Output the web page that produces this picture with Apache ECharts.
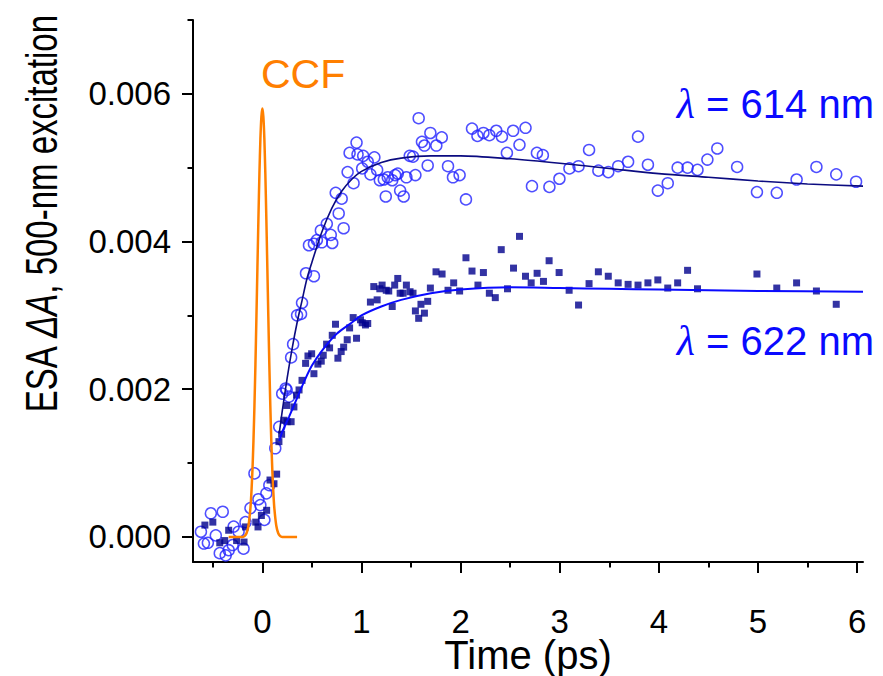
<!DOCTYPE html>
<html><head><meta charset="utf-8">
<script src="https://cdn.jsdelivr.net/npm/echarts@6/dist/echarts.min.js"></script>
<style>html,body{margin:0;padding:0;background:#fff}#c{width:883px;height:676px}</style>
</head><body><div id="c"></div>
<script>
// ESA ΔA values are stored in units of 1e-3; time in ps
const xMajorTicks = [0, 1, 2, 3, 4, 5, 6];
const xMinorTicks = [-0.5, 0.5, 1.5, 2.5, 3.5, 4.5, 5.5];
const yMajorTicks = [0, 2, 4, 6];
const yMinorTicks = [1, 3, 5, 7];

const points614 = [
  [-0.62,0.07],[-0.59,-0.09],[-0.55,-0.08],[-0.52,0.32],[-0.47,0.02],[-0.43,-0.22],[-0.40,0.34],
  [-0.37,-0.25],[-0.34,-0.18],[-0.30,-0.11],[-0.29,0.14],[-0.24,0.07],[-0.19,-0.16],[-0.17,0.20],
  [-0.12,0.39],[-0.08,0.86],[-0.04,0.51],[-0.02,0.43],[0.02,0.23],[0.04,0.59],[0.07,0.70],
  [0.13,1.20],[0.17,1.49],[0.20,1.94],[0.235,2.01],[0.245,1.99],[0.27,1.90],[0.29,2.43],
  [0.31,2.61],[0.35,3.00],[0.39,3.02],[0.40,3.17],[0.44,3.57],[0.47,3.95],[0.52,3.53],
  [0.52,3.97],[0.55,4.02],[0.59,4.15],[0.60,3.99],[0.65,4.24],[0.69,4.09],[0.705,3.98],
  [0.74,4.66],[0.77,4.38],[0.80,4.58],[0.82,4.18],[0.86,4.94],[0.88,5.20],[0.92,4.79],
  [0.95,5.34],[0.96,5.18],[1.007,4.99],[1.017,5.16],[1.063,5.08],[1.09,4.91],[1.13,5.14],
  [1.158,4.97],[1.185,4.83],[1.225,4.84],[1.245,4.61],[1.265,4.87],[1.31,4.83],[1.34,4.90],
  [1.366,4.92],[1.39,4.69],[1.426,4.61],[1.453,4.87],[1.487,5.16],[1.52,5.15],[1.544,4.90],
  [1.577,5.67],[1.61,5.35],[1.635,5.30],[1.668,5.03],[1.695,5.47],[1.755,5.30],[1.81,5.41],
  [1.873,5.02],[1.923,4.87],[1.99,4.90],[2.054,4.57],[2.115,5.53],[2.17,5.43],[2.23,5.47],
  [2.29,5.44],[2.36,5.50],[2.417,5.42],[2.467,5.20],[2.53,5.50],[2.594,5.31],[2.655,5.54],
  [2.72,4.75],[2.77,5.20],[2.83,5.17],[2.896,4.74],[2.997,4.85],[3.098,4.99],[3.19,5.02],
  [3.296,5.24],[3.39,4.96],[3.49,4.94],[3.59,5.02],[3.69,5.08],[3.79,5.42],[3.89,5.04],
  [3.99,4.69],[4.09,4.79],[4.19,5.00],[4.29,5.00],[4.39,4.97],[4.49,5.11],[4.59,5.26],
  [4.79,5.01],[4.99,4.67],[5.19,4.66],[5.39,4.84],[5.59,5.01],[5.79,4.91],[5.99,4.81]
];

const points622 = [
  [-0.58,0.16],[-0.50,0.20],[-0.43,-0.08],[-0.38,-0.05],[-0.34,0.09],[-0.26,-0.05],[-0.185,-0.07],
  [-0.17,0.135],[-0.067,0.20],[-0.044,0.135],[-0.01,0.29],[0.043,0.36],[0.077,0.77],[0.117,0.72],
  [0.144,0.85],[0.167,1.29],[0.194,1.39],[0.218,1.58],[0.25,1.56],[0.29,1.56],[0.245,1.78],
  [0.318,1.76],[0.345,1.92],[0.37,1.99],[0.40,2.12],[0.436,2.35],[0.46,2.45],[0.497,2.48],
  [0.52,2.21],[0.56,2.34],[0.594,2.38],[0.614,2.46],[0.648,2.61],[0.678,2.56],[0.705,2.73],
  [0.738,2.88],[0.762,2.42],[0.795,2.51],[0.82,2.57],[0.856,2.67],[0.88,2.83],[0.916,2.97],
  [0.95,2.69],[0.99,2.94],[1.007,2.90],[1.04,2.87],[1.063,2.89],[1.09,3.18],[1.124,3.39],
  [1.158,3.21],[1.185,3.36],[1.208,3.41],[1.25,3.34],[1.275,3.33],[1.31,3.12],[1.335,3.41],
  [1.366,3.50],[1.39,3.30],[1.42,3.30],[1.453,3.41],[1.49,3.32],[1.52,3.30],[1.544,3.06],
  [1.577,2.96],[1.60,3.15],[1.635,3.03],[1.668,3.19],[1.695,3.37],[1.752,3.59],[1.813,3.56],
  [1.873,3.34],[1.93,3.44],[1.99,3.33],[2.054,3.78],[2.115,3.60],[2.175,3.41],[2.23,3.58],
  [2.29,3.30],[2.35,3.24],[2.41,3.89],[2.473,3.36],[2.534,3.64],[2.594,4.07],[2.655,3.53],
  [2.712,3.44],[2.772,3.57],[2.836,3.46],[2.893,3.74],[2.994,3.58],[3.095,3.34],[3.19,3.14],
  [3.296,3.43],[3.39,3.59],[3.49,3.53],[3.59,3.44],[3.69,3.42],[3.79,3.41],[3.89,3.44],
  [3.99,3.48],[4.09,3.37],[4.19,3.44],[4.29,3.61],[4.39,3.36],[4.99,3.56],[5.19,3.37],
  [5.39,3.44],[5.59,3.33],[5.79,3.15]
];

const fit614 = [
  [0.17,1.40],[0.20,1.70],[0.25,2.15],[0.30,2.55],[0.35,2.90],[0.40,3.20],[0.45,3.50],
  [0.50,3.72],[0.60,4.13],[0.70,4.45],[0.80,4.68],[0.90,4.84],[1.00,4.95],[1.20,5.07],
  [1.40,5.13],[1.70,5.16],[2.00,5.16],[2.50,5.12],[3.00,5.06],[3.50,4.99],[4.00,4.92],
  [4.50,4.87],[5.00,4.82],[5.50,4.78],[6.06,4.75]
];

const fit622 = [
  [0.17,1.30],[0.20,1.42],[0.27,1.63],[0.35,1.88],[0.42,2.10],[0.50,2.32],[0.60,2.52],
  [0.75,2.75],[0.90,2.90],[1.00,3.00],[1.20,3.12],[1.40,3.21],[1.70,3.30],[2.00,3.35],
  [2.50,3.38],[3.00,3.37],[3.50,3.36],[4.00,3.35],[5.00,3.33],[6.06,3.32]
];

const ccf = [
  [-0.34,0],[-0.20,0],[-0.18,0.01],[-0.16,0.05],[-0.14,0.155],[-0.12,0.40],[-0.11,0.62],
  [-0.10,0.91],[-0.09,1.30],[-0.08,1.78],[-0.07,2.34],[-0.06,2.98],[-0.05,3.65],[-0.04,4.31],
  [-0.03,4.91],[-0.02,5.39],[-0.01,5.69],[0,5.80],[0.01,5.69],[0.02,5.39],[0.03,4.91],
  [0.04,4.31],[0.05,3.65],[0.06,2.98],[0.07,2.34],[0.08,1.78],[0.09,1.30],[0.10,0.91],
  [0.11,0.62],[0.12,0.40],[0.14,0.155],[0.16,0.05],[0.18,0.01],[0.20,0],[0.35,0]
];

const labelCCF = 'CCF';
const label614 = '{l|λ} = 614 nm';
const label622 = '{l|λ} = 622 nm';
const xTitle = 'Time (ps)';
const yTitle = 'ESA {i|ΔA}, 500-nm excitation';

function hasFont(name) {
  const c = document.createElement('canvas').getContext('2d');
  const s = 'abcdefghijklmnopqrstuvwxyz0123456789';
  c.font = '40px monospace';
  const w1 = c.measureText(s).width;
  c.font = '40px "' + name + '", monospace';
  const w2 = c.measureText(s).width;
  return Math.abs(w1 - w2) > 0.5;
}
const narrow = hasFont('Liberation Sans Narrow');
const tickFont = narrow ? 'Liberation Sans Narrow' : 'Liberation Sans';
const tickSize = narrow ? 37 : 33;

const chart = echarts.init(document.getElementById('c'), null, { renderer: 'svg' });

const black = '#000';
const X_MIN = -0.7, X_MAX = 6.06, Y_MIN = -0.34, Y_MAX = 7.0;

const option = {
  animation: false,
  backgroundColor: '#fff',
  grid: { left: 193, right: 20, top: 20, bottom: 114, containLabel: false, outerBoundsMode: 'none' },
  xAxis: [
    {
      type: 'value', min: X_MIN, max: X_MAX, position: 'bottom',
      axisLine: { show: true, onZero: false, lineStyle: { color: black, width: 2 } },
      axisTick: { show: true, length: 11, customValues: xMajorTicks, lineStyle: { color: black, width: 2 } },
      axisLabel: { customValues: xMajorTicks, margin: 45.5, lineHeight: 28, fontSize: tickSize, fontFamily: tickFont, color: black },
      splitLine: { show: false },
      name: xTitle, nameLocation: 'middle', nameGap: 78, nameMoveOverlap: false,
      nameTextStyle: { fontSize: 40, lineHeight: 30, fontFamily: 'Liberation Sans', color: black }
    },
    {
      type: 'value', min: X_MIN, max: X_MAX, position: 'bottom',
      axisLine: { show: false, onZero: false },
      axisTick: { show: true, length: 5.5, customValues: xMinorTicks, lineStyle: { color: black, width: 2 } },
      axisLabel: { show: false },
      splitLine: { show: false }
    }
  ],
  yAxis: [
    {
      type: 'value', min: Y_MIN, max: Y_MAX, position: 'left',
      axisLine: { show: true, onZero: false, lineStyle: { color: black, width: 2 } },
      axisTick: { show: true, length: 11, customValues: yMajorTicks, lineStyle: { color: black, width: 2 } },
      axisLabel: { customValues: yMajorTicks, margin: 22, fontSize: tickSize, fontFamily: tickFont, color: black,
        formatter: v => (v / 1000).toFixed(3) },
      splitLine: { show: false }
    },
    {
      type: 'value', min: Y_MIN, max: Y_MAX, position: 'left',
      axisLine: { show: false, onZero: false },
      axisTick: { show: true, length: 5.5, customValues: yMinorTicks, lineStyle: { color: black, width: 2 } },
      axisLabel: { show: false },
      splitLine: { show: false }
    }
  ],
  graphic: [
    {
      type: 'text', x: 41.5, y: 214, rotation: Math.PI / 2, scaleX: 0.75, scaleY: 1,
      style: {
        text: yTitle, fill: black, fontSize: 44, fontFamily: 'Liberation Sans',
        align: 'center', verticalAlign: 'middle', textAlign: 'center', textVerticalAlign: 'middle',
        rich: { i: { fontStyle: 'italic', fontSize: 44, fontFamily: 'Liberation Sans', fill: black } }
      }
    },
    {
      type: 'text', x: 261, y: 74,
      style: { text: labelCCF, fill: '#ff7f00', fontSize: 41, fontFamily: 'Liberation Sans',
        align: 'left', verticalAlign: 'middle', textAlign: 'left', textVerticalAlign: 'middle' }
    },
    {
      type: 'text', x: 874, y: 104,
      style: { text: label614, fill: '#0a0aff', fontSize: 40, fontFamily: 'Liberation Sans',
        align: 'right', verticalAlign: 'middle', textAlign: 'right', textVerticalAlign: 'middle',
        rich: { l: { fontStyle: 'italic', fontFamily: 'Liberation Serif', fontSize: 42, fill: '#0a0aff' } } }
    },
    {
      type: 'text', x: 874, y: 341,
      style: { text: label622, fill: '#0a0aff', fontSize: 40, fontFamily: 'Liberation Sans',
        align: 'right', verticalAlign: 'middle', textAlign: 'right', textVerticalAlign: 'middle',
        rich: { l: { fontStyle: 'italic', fontFamily: 'Liberation Serif', fontSize: 42, fill: '#0a0aff' } } }
    }
  ],
  series: [
    {
      name: '614 nm data', type: 'scatter', data: points614, symbol: 'circle', symbolSize: 11,
      itemStyle: { color: 'rgba(0,0,0,0)', borderColor: '#2222ff', borderWidth: 1.5 },
      emphasis: { disabled: true }, z: 2
    },
    {
      name: '622 nm data', type: 'scatter', data: points622, symbol: 'rect', symbolSize: 7,
      itemStyle: { color: '#00008c' }, emphasis: { disabled: true }, z: 3
    },
    {
      name: '614 nm fit', type: 'line', data: fit614, showSymbol: false, smooth: 0.3,
      lineStyle: { color: '#0b0b80', width: 1.6 }, emphasis: { disabled: true }, z: 4
    },
    {
      name: '622 nm fit', type: 'line', data: fit622, showSymbol: false, smooth: 0.3,
      lineStyle: { color: '#0a0aff', width: 2 }, emphasis: { disabled: true }, z: 4
    },
    {
      name: 'CCF', type: 'line', data: ccf, showSymbol: false, smooth: 0.2,
      lineStyle: { color: '#ff8000', width: 2.5 }, emphasis: { disabled: true }, z: 5
    }
  ]
};
chart.setOption(option);
</script>
</body></html>
